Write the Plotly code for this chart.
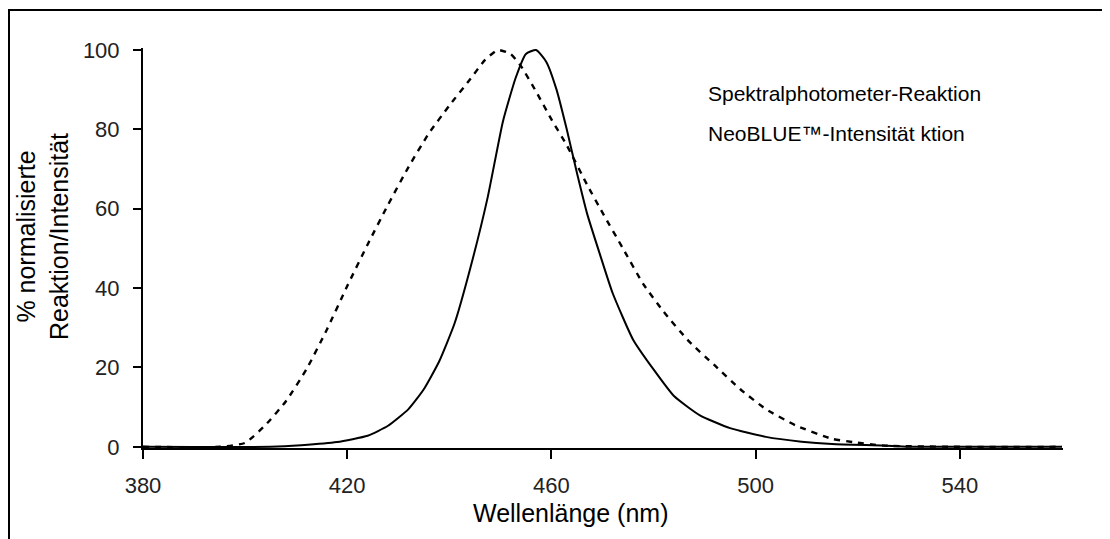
import plotly.graph_objects as go

# Spektralphotometer-Reaktion (dashed)
spec_nm = [380, 395, 400, 404, 408, 412, 416, 420, 424, 428, 432, 436, 440, 444, 447,
           449.5, 452, 454, 457, 460, 463, 467, 470, 474, 478, 482, 487, 492, 497, 502,
           508, 515, 519, 525, 540, 560]
spec_val = [0, 0, 1, 5.5, 11.5, 19.5, 29.5, 40.5, 51, 61, 70.5, 79, 86, 92.5, 97.5,
            100, 99, 96, 89.5, 82.5, 76, 66, 59, 50, 41, 34, 26.5, 20.5, 14.5, 9.5,
            5.3, 2, 1.2, 0.3, 0, 0]

# NeoBLUE-Intensität (solid)
neo_nm = [380, 405, 411, 418, 424, 428, 432, 435, 438, 441, 444, 447.5, 450.5, 453, 455,
          457, 459, 461, 463, 465, 467, 469.5, 472, 476, 480, 484, 489, 495, 502, 509,
          515, 525, 530, 560]
neo_val = [0, 0, 0.4, 1.2, 2.8, 5.3, 9.5, 14.5, 21.5, 31, 44.5, 62.8, 82, 93, 99,
           100, 97, 90, 80, 69, 58.7, 48.5, 38.7, 27, 19.5, 12.8, 8, 4.7, 2.5, 1.3,
           0.7, 0.3, 0, 0]

x_ticks = [380, 420, 460, 500, 540]
y_ticks = [0, 20, 40, 60, 80, 100]

legend_labels = ["Spektralphotometer-Reaktion", "NeoBLUE™-Intensität ktion"]
x_title = "Wellenlänge (nm)"
y_title = "% normalisierte<br>Reaktion/Intensität"

# page body has an 8px default margin: work in reference pixels, shift by OFF
OFF = 8
W, H = 1110 - OFF, 539 - OFF
L, R, T, B = 143 - OFF, 1063 - OFF, 48 - OFF, 448 - OFF
FONT = "Liberation Sans, Arial, sans-serif"


def px(x):
    return (x - OFF - L) / (R - L)


def py(y):
    return (B - (y - OFF)) / (B - T)


fig = go.Figure()
fig.add_trace(go.Scatter(x=spec_nm, y=spec_val, mode="lines", name=legend_labels[0],
                         line=dict(color="black", width=2.4, dash="6px,6px",
                                   shape="spline", smoothing=0.5)))
fig.add_trace(go.Scatter(x=neo_nm, y=neo_val, mode="lines", name=legend_labels[1],
                         line=dict(color="black", width=2, shape="spline", smoothing=0.5)))

fig.update_layout(
    width=W, height=H,
    margin=dict(l=L, r=W - R, t=T, b=H - B, pad=0),
    paper_bgcolor="white", plot_bgcolor="white",
    showlegend=False,
    font=dict(family=FONT, color="black"),
    xaxis=dict(range=[380, 560.2], tickvals=x_ticks, ticks="outside", ticklen=9,
               tickwidth=1.5, tickcolor="black", showline=True, linecolor="black",
               linewidth=2, showgrid=False, zeroline=False,
               tickfont=dict(size=22, color="#222"), ticklabelstandoff=8),
    yaxis=dict(range=[-0.3, 100.5], tickvals=y_ticks, ticks="outside", ticklen=8,
               tickwidth=1.5, tickcolor="black", showline=True, linecolor="black",
               linewidth=2, showgrid=False, zeroline=False,
               tickfont=dict(size=22, color="#222"), ticklabelstandoff=9),
)

annotations = [
    dict(text=x_title, x=px(570), y=py(513), xref="paper", yref="paper",
         xanchor="center", yanchor="middle", showarrow=False,
         font=dict(size=25, color="black")),
    dict(text=y_title, x=px(42), y=py(237), xref="paper", yref="paper",
         xanchor="center", yanchor="middle", showarrow=False, textangle=-90,
         font=dict(size=25, color="black")),
    dict(text=legend_labels[0], x=px(706), y=py(93), xref="paper", yref="paper",
         xanchor="left", yanchor="middle", showarrow=False,
         font=dict(size=21, color="black")),
    dict(text=legend_labels[1], x=px(706), y=py(134), xref="paper", yref="paper",
         xanchor="left", yanchor="middle", showarrow=False,
         font=dict(size=21, color="black")),
]
fig.update_layout(annotations=annotations)

fig.add_shape(type="line", xref="paper", yref="paper", x0=px(8), x1=px(1115),
              y0=py(10), y1=py(10), line=dict(color="black", width=2))
fig.add_shape(type="line", xref="paper", yref="paper", x0=px(9), x1=px(9),
              y0=py(10), y1=py(545), line=dict(color="black", width=2))

fig.write_html("out.html")
